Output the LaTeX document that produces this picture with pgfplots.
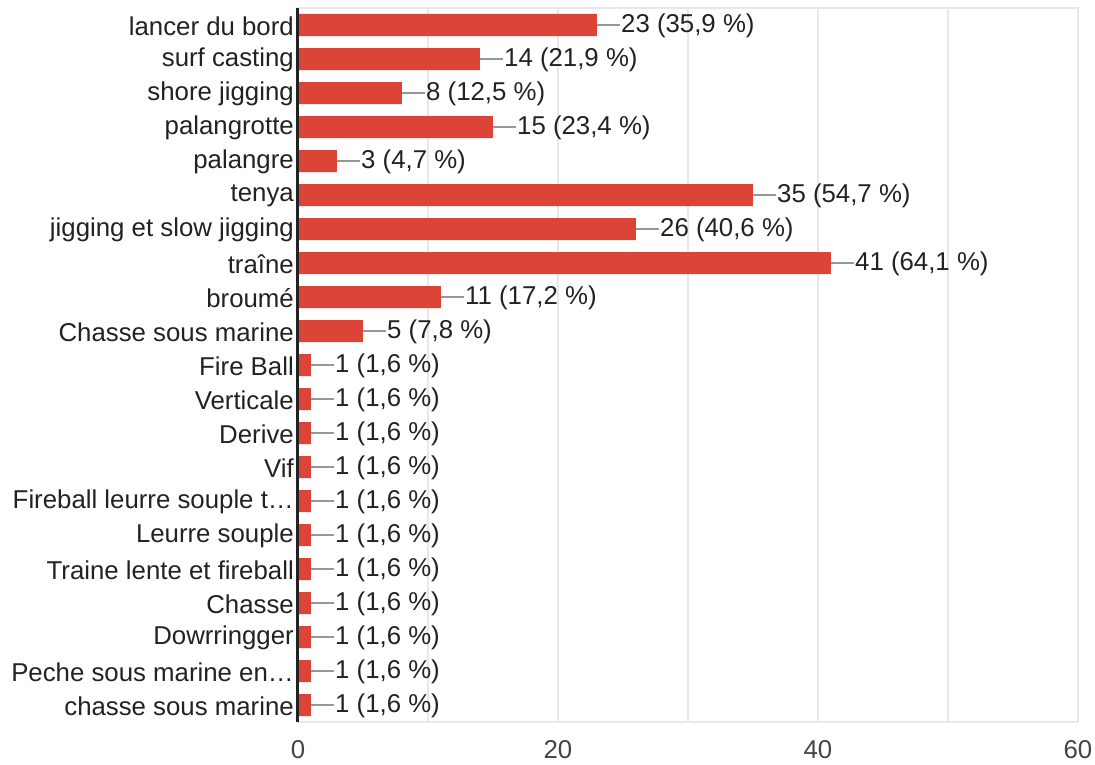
\documentclass[border=0pt]{standalone}
\usepackage{fontspec}
\setmainfont{Liberation Sans}
\usepackage{pgfplots}
\pgfplotsset{compat=1.18}
\usepackage{pgfplotstable}
\definecolor{barred}{RGB}{219,68,55}
\definecolor{gridc}{RGB}{232,232,232}
\definecolor{txt}{RGB}{34,34,34}
\definecolor{tickc}{RGB}{68,68,68}
\definecolor{conn}{RGB}{150,150,150}

\pgfplotstableread[col sep=semicolon,row sep=\\]{
y;x;lab\\
0;23;23 (35,9 \%)\\
1;14;14 (21,9 \%)\\
2;8;8 (12,5 \%)\\
3;15;15 (23,4 \%)\\
4;3;3 (4,7 \%)\\
5;35;35 (54,7 \%)\\
6;26;26 (40,6 \%)\\
7;41;41 (64,1 \%)\\
8;11;11 (17,2 \%)\\
9;5;5 (7,8 \%)\\
10;1;1 (1,6 \%)\\
11;1;1 (1,6 \%)\\
12;1;1 (1,6 \%)\\
13;1;1 (1,6 \%)\\
14;1;1 (1,6 \%)\\
15;1;1 (1,6 \%)\\
16;1;1 (1,6 \%)\\
17;1;1 (1,6 \%)\\
18;1;1 (1,6 \%)\\
19;1;1 (1,6 \%)\\
20;1;1 (1,6 \%)\\
}\data

\begin{document}
\fontsize{25.8}{30}\selectfont
\begin{tikzpicture}
\useasboundingbox (-298pt,-43pt) rectangle (797pt,722pt);
\begin{axis}[
  at={(0,0)}, anchor=south west,
  scale only axis, width=780pt, height=714pt,
  xmin=0, xmax=60, ymin=-0.5, ymax=20.5,
  y dir=reverse,
  xtick={0,20,40,60}, minor xtick={10,30,50},
  ytick={0,...,20},
  yticklabels={lancer du bord, surf casting, shore jigging, palangrotte, palangre, tenya, jigging et slow jigging, traîne, broumé, Chasse sous marine, Fire Ball, Verticale, Derive, Vif, Fireball leurre souple t…, Leurre souple, Traine lente et fireball, Chasse, Dowrringger, Peche sous marine en…, chasse sous marine},
  major tick length=0pt, minor tick length=0pt,
  xmajorgrids, xminorgrids, ymajorgrids=false,
  major grid style={gridc, line width=1.2pt},
  minor grid style={gridc, line width=1.2pt},
  axis line style={gridc, line width=1.2pt},
  xticklabel style={text=tickc, yshift=-10pt},
  yticklabel style={text=txt, inner sep=2pt, xshift=-2pt, yshift=-1pt},
  /pgf/number format/assume math mode=true,
  clip=false,
]
\addplot[xbar, bar width=22pt, fill=barred, draw=none,
  point meta=explicit symbolic,
  nodes near coords,
  nodes near coords style={anchor=west, xshift=23pt, yshift=-1pt, inner sep=1pt, text=txt},
  error bars/.cd, x dir=plus, x fixed=1.75, error mark=none,
  error bar style={conn, line width=2pt, solid}]
  table[x=x, y=y, meta=lab]{\data};
\draw[txt, line width=3pt] (rel axis cs:0,0) -- (rel axis cs:0,1);
\end{axis}
\end{tikzpicture}
\end{document}
